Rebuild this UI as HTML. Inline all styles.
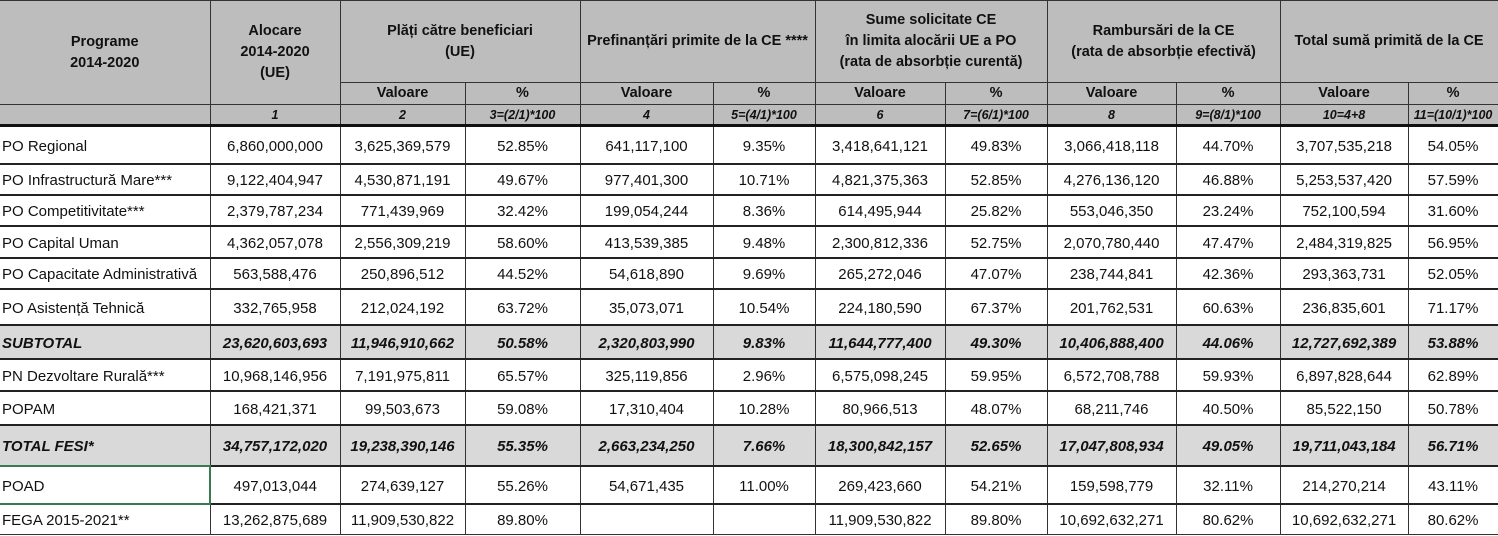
<!DOCTYPE html>
<html><head><meta charset="utf-8"><style>
body{margin:0;background:#fff;width:1498px;height:536px;overflow:hidden}
table{border-collapse:collapse;table-layout:fixed;width:1498px;font-family:"Liberation Sans",sans-serif;color:#111}
td{border:1px solid #333;padding:0;text-align:center;white-space:nowrap;overflow:hidden;font-size:15px}
tr.d td{border-top:2px solid #222;padding-top:3px}
td.l{text-align:left;padding-left:2px;border-left:none}
.h td{background:#bdbdbd;font-weight:bold;font-size:14.5px;line-height:21px}
.h2 td{background:#bdbdbd;font-weight:bold;font-style:italic;font-size:12.5px;border-bottom:3px solid #111}
tr.g td{background:#d9d9d9;font-weight:bold;font-style:italic}
</style></head><body>
<table>
<colgroup><col style="width:210px"><col style="width:130px"><col style="width:125px"><col style="width:115px"><col style="width:133px"><col style="width:102px"><col style="width:130px"><col style="width:102px"><col style="width:129px"><col style="width:104px"><col style="width:128px"><col style="width:90px"></colgroup>
<tr class="h" style="height:82px"><td rowspan="2" style="border-left:none">Programe<br>2014-2020</td><td rowspan="2">Alocare<br>2014-2020<br>(UE)</td><td colspan="2">Plăți către beneficiari<br>(UE)</td><td colspan="2">Prefinanțări primite de la CE ****</td><td colspan="2">Sume solicitate CE<br>în limita alocării UE a PO<br>(rata de absorbție curentă)</td><td colspan="2">Rambursări de la CE<br>(rata de absorbție efectivă)</td><td colspan="2">Total sumă primită de la CE</td></tr>
<tr class="h" style="height:22px"><td>Valoare</td><td>%</td><td>Valoare</td><td>%</td><td>Valoare</td><td>%</td><td>Valoare</td><td>%</td><td>Valoare</td><td>%</td></tr>
<tr class="h2" style="height:21px"><td style="border-left:none"></td><td>1</td><td>2</td><td>3=(2/1)*100</td><td>4</td><td>5=(4/1)*100</td><td>6</td><td>7=(6/1)*100</td><td>8</td><td>9=(8/1)*100</td><td>10=4+8</td><td>11=(10/1)*100</td></tr>
<tr class="d" style="height:38px"><td class="l">PO Regional</td><td>6,860,000,000</td><td>3,625,369,579</td><td>52.85%</td><td>641,117,100</td><td>9.35%</td><td>3,418,641,121</td><td>49.83%</td><td>3,066,418,118</td><td>44.70%</td><td>3,707,535,218</td><td>54.05%</td></tr>
<tr class="d" style="height:31px"><td class="l">PO Infrastructură Mare***</td><td>9,122,404,947</td><td>4,530,871,191</td><td>49.67%</td><td>977,401,300</td><td>10.71%</td><td>4,821,375,363</td><td>52.85%</td><td>4,276,136,120</td><td>46.88%</td><td>5,253,537,420</td><td>57.59%</td></tr>
<tr class="d" style="height:31px"><td class="l">PO Competitivitate***</td><td>2,379,787,234</td><td>771,439,969</td><td>32.42%</td><td>199,054,244</td><td>8.36%</td><td>614,495,944</td><td>25.82%</td><td>553,046,350</td><td>23.24%</td><td>752,100,594</td><td>31.60%</td></tr>
<tr class="d" style="height:32px"><td class="l">PO Capital Uman</td><td>4,362,057,078</td><td>2,556,309,219</td><td>58.60%</td><td>413,539,385</td><td>9.48%</td><td>2,300,812,336</td><td>52.75%</td><td>2,070,780,440</td><td>47.47%</td><td>2,484,319,825</td><td>56.95%</td></tr>
<tr class="d" style="height:31px"><td class="l">PO Capacitate Administrativă</td><td>563,588,476</td><td>250,896,512</td><td>44.52%</td><td>54,618,890</td><td>9.69%</td><td>265,272,046</td><td>47.07%</td><td>238,744,841</td><td>42.36%</td><td>293,363,731</td><td>52.05%</td></tr>
<tr class="d" style="height:36px"><td class="l">PO Asistență Tehnică</td><td>332,765,958</td><td>212,024,192</td><td>63.72%</td><td>35,073,071</td><td>10.54%</td><td>224,180,590</td><td>67.37%</td><td>201,762,531</td><td>60.63%</td><td>236,835,601</td><td>71.17%</td></tr>
<tr class="d g" style="height:34px"><td class="l">SUBTOTAL</td><td>23,620,603,693</td><td>11,946,910,662</td><td>50.58%</td><td>2,320,803,990</td><td>9.83%</td><td>11,644,777,400</td><td>49.30%</td><td>10,406,888,400</td><td>44.06%</td><td>12,727,692,389</td><td>53.88%</td></tr>
<tr class="d" style="height:32px"><td class="l">PN Dezvoltare Rurală***</td><td>10,968,146,956</td><td>7,191,975,811</td><td>65.57%</td><td>325,119,856</td><td>2.96%</td><td>6,575,098,245</td><td>59.95%</td><td>6,572,708,788</td><td>59.93%</td><td>6,897,828,644</td><td>62.89%</td></tr>
<tr class="d" style="height:34px"><td class="l">POPAM</td><td>168,421,371</td><td>99,503,673</td><td>59.08%</td><td>17,310,404</td><td>10.28%</td><td>80,966,513</td><td>48.07%</td><td>68,211,746</td><td>40.50%</td><td>85,522,150</td><td>50.78%</td></tr>
<tr class="d g" style="height:41px"><td class="l">TOTAL FESI*</td><td>34,757,172,020</td><td>19,238,390,146</td><td>55.35%</td><td>2,663,234,250</td><td>7.66%</td><td>18,300,842,157</td><td>52.65%</td><td>17,047,808,934</td><td>49.05%</td><td>19,711,043,184</td><td>56.71%</td></tr>
<tr class="d" style="height:38px"><td class="l" style="border:2px solid #3a7a50;border-left:none">POAD</td><td>497,013,044</td><td>274,639,127</td><td>55.26%</td><td>54,671,435</td><td>11.00%</td><td>269,423,660</td><td>54.21%</td><td>159,598,779</td><td>32.11%</td><td>214,270,214</td><td>43.11%</td></tr>
<tr class="d" style="height:31px"><td class="l">FEGA 2015-2021**</td><td>13,262,875,689</td><td>11,909,530,822</td><td>89.80%</td><td></td><td></td><td>11,909,530,822</td><td>89.80%</td><td>10,692,632,271</td><td>80.62%</td><td>10,692,632,271</td><td>80.62%</td></tr>
</table>
</body></html>
